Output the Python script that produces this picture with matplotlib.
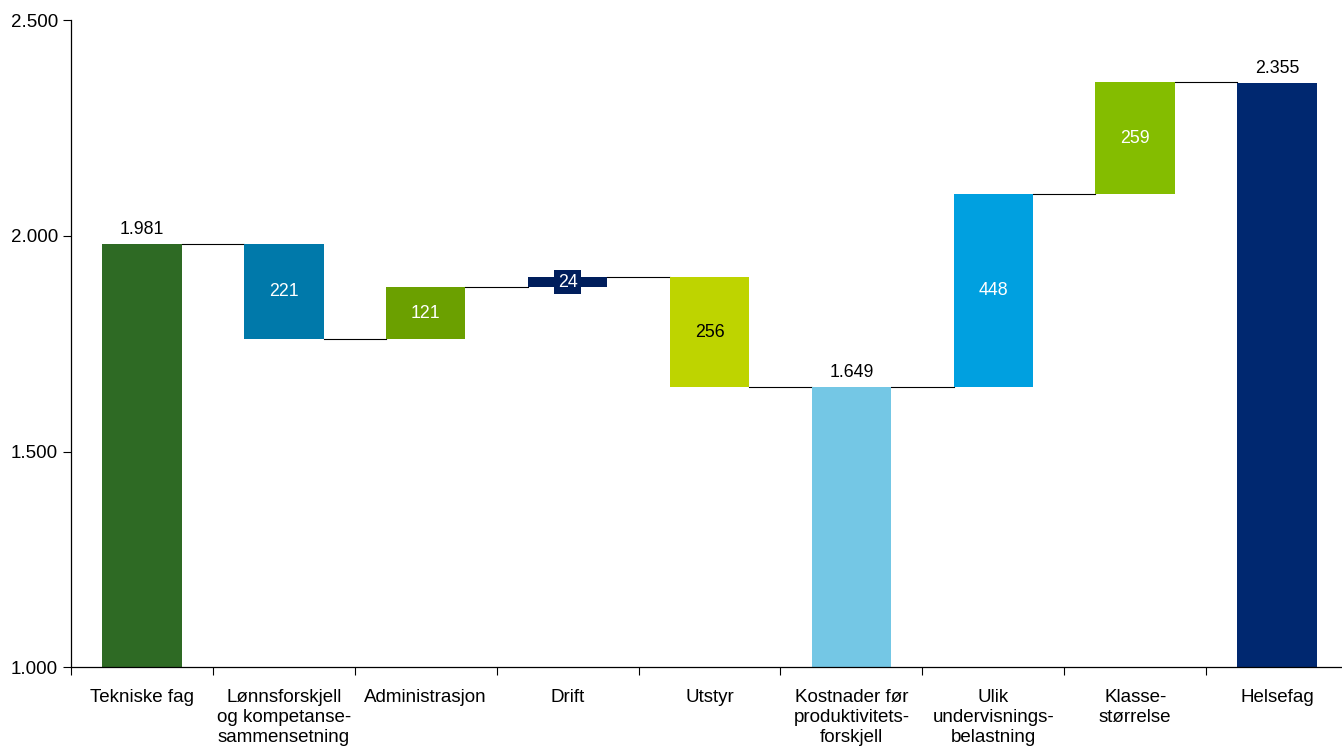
import numpy as np
import matplotlib.pyplot as plt

plt.rcParams['font.family'] = ['Liberation Sans', 'DejaVu Sans']

categories = ['Tekniske fag', 'Lønnsforskjell\nog kompetanse-\nsammensetning', 'Administrasjon',
              'Drift', 'Utstyr', 'Kostnader før\nproduktivitets-\nforskjell', 'Ulik\nundervisnings-\nbelastning',
              'Klasse-\nstørrelse', 'Helsefag']
# totals are given as levels, the rest as signed changes
values = [1981, -221, 121, 24, -256, 1649, 448, 259, 2355]
is_total = [True, False, False, False, False, True, False, False, True]
colors = ['#2E6A24', '#0079AA', '#6BA000', '#001E5C', '#BED400', '#74C7E5', '#00A0E0', '#84BD00', '#002870']
label_colors = ['black', 'white', 'white', 'white', 'black', 'black', 'white', 'white', 'black']

fig = plt.figure(figsize=(13.42, 7.48), dpi=100)
ax = fig.add_axes([0.0529, 0.108, 0.9516, 0.865])

x = np.arange(len(categories))
width = 0.56
running = 0
bottoms, heights, levels = [], [], []
for i, v in enumerate(values):
    if is_total[i]:
        running = v
        bottoms.append(0)
        heights.append(v)
    else:
        bottoms.append(min(running, running + v))
        heights.append(abs(v))
        running += v
    levels.append(running)

ax.bar(x, heights, bottom=bottoms, width=width, color=colors, zorder=2)

# connectors between bars
for i in range(len(categories) - 1):
    ax.plot([x[i] + width / 2, x[i + 1] - width / 2], [levels[i], levels[i]],
            color='black', lw=0.8, zorder=1)

for i in range(len(categories)):
    if is_total[i]:
        val = values[i]
        ax.text(x[i], val + 14, f'{val:,}'.replace(',', '.'), ha='center', va='bottom',
                fontsize=12.8, color='black')
    else:
        val = abs(values[i])
        yc = bottoms[i] + heights[i] / 2
        if val < 50:
            ax.text(x[i], yc, str(val), ha='center', va='center', fontsize=12.8, zorder=3,
                    color='white', bbox=dict(boxstyle='square,pad=0.2', fc=colors[i], ec='none'))
        else:
            ax.text(x[i], yc, str(val), ha='center', va='center', fontsize=12.8,
                    color=label_colors[i])

ax.set_ylim(1000, 2500)
ax.set_xlim(-0.5, len(categories) - 0.5)
ax.set_yticks([1000, 1500, 2000, 2500])
ax.set_yticklabels(['1.000', '1.500', '2.000', '2.500'])
ax.set_xticks(np.arange(len(categories) + 1) - 0.5, minor=False)
ax.set_xticklabels([])
ax.set_xticks(x, minor=True)
ax.set_xticklabels(categories, minor=True, va='top', linespacing=1.2)
ax.tick_params(axis='x', which='minor', length=0, pad=16, labelsize=13.5)
ax.tick_params(axis='x', which='major', length=6, direction='out', width=0.8)
ax.tick_params(axis='y', length=6, direction='out', labelsize=13.5, width=0.8)
ax.spines['top'].set_visible(False)
ax.spines['right'].set_visible(False)
for sp in ['left', 'bottom']:
    ax.spines[sp].set_linewidth(0.9)

fig.savefig('out.png', dpi=100)
